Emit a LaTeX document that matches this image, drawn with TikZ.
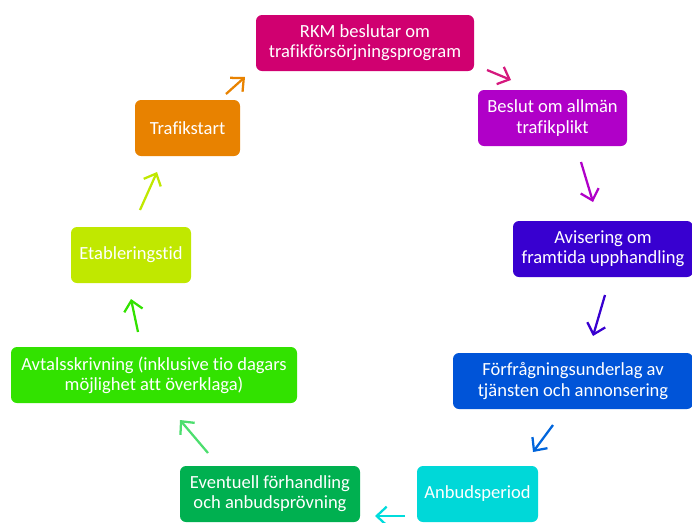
\documentclass[tikz,border=0pt]{standalone}
\usepackage{fontspec}
\setmainfont{Carlito}[Ligatures=NoCommon]
\usepackage{xcolor}
\usepackage{tikz}
\usetikzlibrary{arrows.meta}
\definecolor{myrkm}{RGB}{208,0,112}
\definecolor{mybeslut}{RGB}{176,0,200}
\definecolor{myavis}{RGB}{56,0,208}
\definecolor{myforfr}{RGB}{0,84,216}
\definecolor{myanbud}{RGB}{0,216,216}
\definecolor{myevent}{RGB}{0,176,80}
\definecolor{myavtal}{RGB}{50,226,0}
\definecolor{myetabl}{RGB}{192,232,0}
\definecolor{mystart}{RGB}{232,130,0}
\tikzstyle{stage} = [rectangle, rounded corners=4.5pt, minimum height=42pt, text centered, align=center, text=white, inner sep=2pt]
\tikzstyle{arrow} = [line width=1.7pt, -{Straight Barb[length=7.5pt,width=14pt]}]

\begin{document}
\begin{tikzpicture}[x=0.75pt, y=-0.75pt, font=\fontsize{13.9}{15.2}\selectfont]
    \useasboundingbox (0,0) rectangle (692,522);
    \node (rkm) [stage, fill=myrkm, minimum width=163.5pt] at (365,43) {RKM beslutar om\\trafikförsörjningsprogram};
    \node (beslut) [stage, fill=mybeslut, minimum width=111.75pt] at (552.5,118) {Beslut om allmän\\trafikplikt};
    \node (avis) [stage, fill=myavis, minimum width=135pt] at (603,249) {Avisering om\\framtida upphandling};
    \node (forfr) [stage, fill=myforfr, minimum width=180pt] at (573,381) {Förfrågningsunderlag av\\tjänsten och annonsering};
    \node (anbud) [stage, fill=myanbud, minimum width=90.75pt] at (477.5,494) {Anbudsperiod};
    \node (event) [stage, fill=myevent, minimum width=135pt] at (270,494) {Eventuell förhandling\\och anbudsprövning};
    \node (avtal) [stage, fill=myavtal, minimum width=214.5pt] at (154,375) {Avtalsskrivning (inklusive tio dagars\\möjlighet att överklaga)};
    \node (etabl) [stage, fill=myetabl, minimum width=90pt] at (131,255) {Etableringstid};
    \node (start) [stage, fill=mystart, minimum width=78.75pt] at (187.5,128) {Trafikstart};
    % arrow ends
    \coordinate (s1) at (487,70);  \coordinate (e1) at (511,80);
    \coordinate (s2) at (581,162); \coordinate (e2) at (593,202);
    \coordinate (s3) at (605,295); \coordinate (e3) at (593,336);
    \coordinate (s4) at (553,425); \coordinate (e4) at (533,452);
    \coordinate (s5) at (405,516); \coordinate (e5) at (375,516);
    \coordinate (s6) at (208,453); \coordinate (e6) at (180,420);
    \coordinate (s7) at (138,332); \coordinate (e7) at (131,299);
    \coordinate (s8) at (140,210); \coordinate (e8) at (157,172);
    \coordinate (s9) at (226,94);  \coordinate (e9) at (245,77);
    \draw [arrow, myrkm!90!white] (s1) -- (e1);
    \draw [arrow, mybeslut] (s2) -- (e2);
    \draw [arrow, myavis] (s3) -- (e3);
    \draw [arrow, myforfr!90!cyan] (s4) -- (e4);
    \draw [arrow, myanbud!90!cyan] (s5) -- (e5);
    \draw [arrow, myevent!60!green!70!white] (s6) -- (e6);
    \draw [arrow, myavtal] (s7) -- (e7);
    \draw [arrow, myetabl] (s8) -- (e8);
    \draw [arrow, mystart] (s9) -- (e9);
\end{tikzpicture}
\end{document}
